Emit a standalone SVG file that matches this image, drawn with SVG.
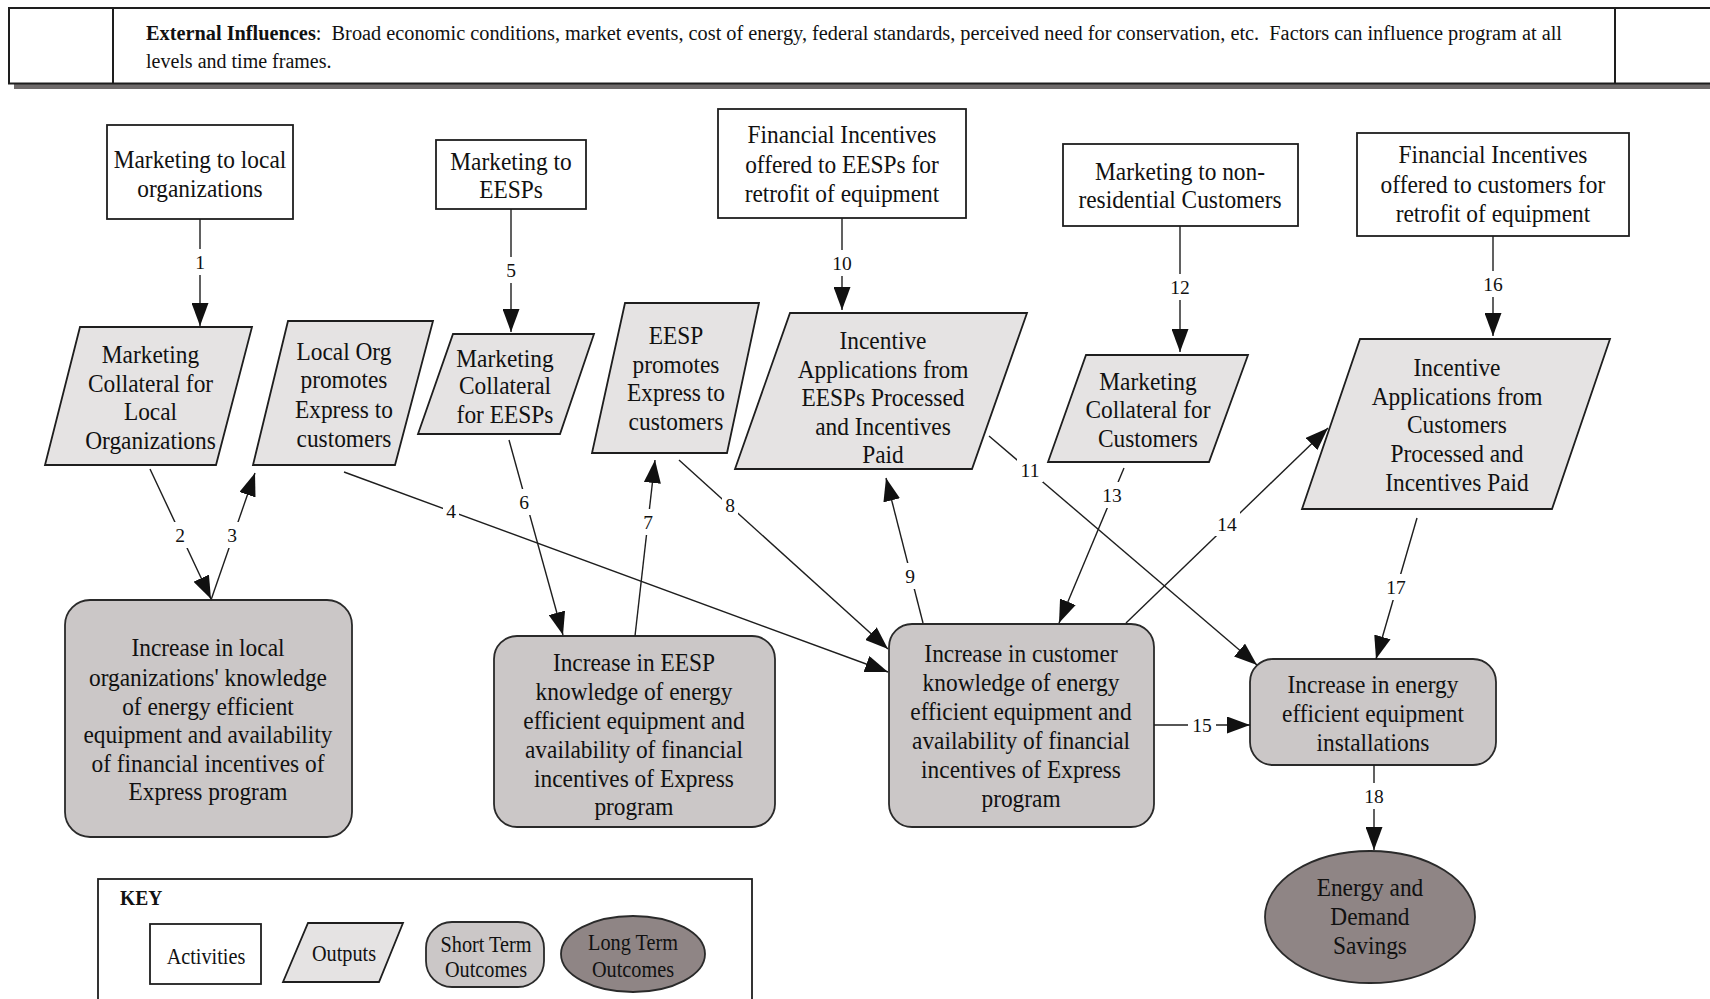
<svg xmlns="http://www.w3.org/2000/svg" width="1710" height="999" viewBox="0 0 1710 999">
<style>
.t{font-family:"Liberation Serif","Times New Roman",serif;fill:#111;text-anchor:middle}
.n{font-size:25px}
.k{font-size:22.5px}
.act{fill:#fff;stroke:#1e1e1e;stroke-width:1.8}
.out{fill:#e5e3e3;stroke:#1e1e1e;stroke-width:1.8}
.st{fill:#cbc7c7;stroke:#2a2a2a;stroke-width:1.8}
.lt{fill:#8f8585;stroke:#2a2a2a;stroke-width:1.8}
.e{stroke:#1e1e1e;stroke-width:1.4;fill:none;marker-end:url(#ah)}
.bg{fill:#fff}
.lb{font-family:"Liberation Serif","Times New Roman",serif;font-size:19.5px;fill:#111;text-anchor:middle}
.hd{font-family:"Liberation Serif","Times New Roman",serif;font-size:20px;fill:#111;white-space:pre}
</style>
<defs>
<marker id="ah" markerUnits="userSpaceOnUse" markerWidth="23" markerHeight="17" refX="23" refY="8.5" orient="auto">
<path d="M0,0 L23,8.5 L0,17 z" fill="#111"/>
</marker>
</defs>
<rect width="1710" height="999" fill="#fff"/>

<g id="external-influences">
<rect x="14" y="84" width="1700" height="5" fill="#6e6a6a"/>
<rect x="9" y="8" width="1710" height="75.5" fill="#fff" stroke="#1e1e1e" stroke-width="2"/>
<line x1="113" y1="8" x2="113" y2="83.5" stroke="#1e1e1e" stroke-width="2"/>
<line x1="1615" y1="8" x2="1615" y2="83.5" stroke="#1e1e1e" stroke-width="2"/>
<text class="hd" x="146" y="40" textLength="1416" lengthAdjust="spacingAndGlyphs" xml:space="preserve"><tspan font-weight="bold">External Influences</tspan>:  Broad economic conditions, market events, cost of energy, federal standards, perceived need for conservation, etc.  Factors can influence program at all</text>
<text class="hd" x="146" y="68">levels and time frames.</text>
</g>

<g id="act-local">
<rect class="act" x="107" y="125" width="186" height="94"/>
<text class="t n" transform="matrix(0.935 0 0 1 13 0)" x="200"><tspan x="200" y="168.5">Marketing to local</tspan><tspan x="200" y="197">organizations</tspan></text>
</g>
<g id="act-eesp">
<rect class="act" x="436" y="140" width="150" height="69"/>
<text class="t n" transform="matrix(0.935 0 0 1 33.2 0)"><tspan x="511" y="170">Marketing to</tspan><tspan x="511" y="198">EESPs</tspan></text>
</g>
<g id="act-fin-eesp">
<rect class="act" x="718" y="109" width="248" height="109"/>
<text class="t n" transform="matrix(0.935 0 0 1 54.7 0)"><tspan x="842" y="143.5">Financial Incentives</tspan><tspan x="842" y="173">offered to EESPs for</tspan><tspan x="842" y="202">retrofit of equipment</tspan></text>
</g>
<g id="act-nonres">
<rect class="act" x="1063" y="144" width="235" height="82"/>
<text class="t n" transform="matrix(0.935 0 0 1 76.7 0)"><tspan x="1180" y="180">Marketing to non-</tspan><tspan x="1180" y="208.5">residential Customers</tspan></text>
</g>
<g id="act-fin-cust">
<rect class="act" x="1357" y="133" width="272" height="103"/>
<text class="t n" transform="matrix(0.935 0 0 1 97 0)"><tspan x="1493" y="163.5">Financial Incentives</tspan><tspan x="1493" y="193">offered to customers for</tspan><tspan x="1493" y="222">retrofit of equipment</tspan></text>
</g>

<g id="out-collateral-local">
<polygon class="out" points="80,327 252,327 216,465 45,465"/>
<text class="t n" transform="matrix(0.935 0 0 1 9.8 0)"><tspan x="150.5" y="363.5">Marketing</tspan><tspan x="150.5" y="392">Collateral for</tspan><tspan x="150.5" y="420">Local</tspan><tspan x="150.5" y="449">Organizations</tspan></text>
</g>
<g id="out-localorg-promotes">
<polygon class="out" points="288,321 433,321 395,465 253,465"/>
<text class="t n" transform="matrix(0.935 0 0 1 22.3 0)"><tspan x="344" y="360">Local Org</tspan><tspan x="344" y="388.5">promotes</tspan><tspan x="344" y="418">Express to</tspan><tspan x="344" y="447">customers</tspan></text>
</g>
<g id="out-collateral-eesp">
<polygon class="out" points="453,334 594,334 560,434 418,434"/>
<text class="t n" transform="matrix(0.935 0 0 1 32.8 0)"><tspan x="505" y="367">Marketing</tspan><tspan x="505" y="394.5">Collateral</tspan><tspan x="505" y="423.5">for EESPs</tspan></text>
</g>
<g id="out-eesp-promotes">
<polygon class="out" points="625,303 759,303 727,453 592,453"/>
<text class="t n" transform="matrix(0.935 0 0 1 43.9 0)"><tspan x="676" y="344">EESP</tspan><tspan x="676" y="373">promotes</tspan><tspan x="676" y="401.5">Express to</tspan><tspan x="676" y="430">customers</tspan></text>
</g>
<g id="out-apps-eesp">
<polygon class="out" points="790,313 1027,313 972,469 735,469"/>
<text class="t n" transform="matrix(0.935 0 0 1 57.4 0)"><tspan x="883" y="349">Incentive</tspan><tspan x="883" y="378">Applications from</tspan><tspan x="883" y="406">EESPs Processed</tspan><tspan x="883" y="435">and Incentives</tspan><tspan x="883" y="463.5">Paid</tspan></text>
</g>
<g id="out-collateral-cust">
<polygon class="out" points="1086,355 1248,355 1209,462 1048,462"/>
<text class="t n" transform="matrix(0.935 0 0 1 74.6 0)"><tspan x="1148" y="390">Marketing</tspan><tspan x="1148" y="418.5">Collateral for</tspan><tspan x="1148" y="447.5">Customers</tspan></text>
</g>
<g id="out-apps-cust">
<polygon class="out" points="1360,339 1610,339 1552,509 1302,509"/>
<text class="t n" transform="matrix(0.935 0 0 1 94.7 0)"><tspan x="1457" y="376.5">Incentive</tspan><tspan x="1457" y="405">Applications from</tspan><tspan x="1457" y="433.5">Customers</tspan><tspan x="1457" y="462.5">Processed and</tspan><tspan x="1457" y="491">Incentives Paid</tspan></text>
</g>

<g id="st-local">
<rect class="st" x="65" y="600" width="287" height="237" rx="25"/>
<text class="t n" transform="matrix(0.935 0 0 1 13.5 0)"><tspan x="208" y="656.5">Increase in local</tspan><tspan x="208" y="686">organizations' knowledge</tspan><tspan x="208" y="715">of energy efficient</tspan><tspan x="208" y="743.5">equipment and availability</tspan><tspan x="208" y="772">of financial incentives of</tspan><tspan x="208" y="800">Express program</tspan></text>
</g>
<g id="st-eesp">
<rect class="st" x="494" y="636" width="281" height="191" rx="23"/>
<text class="t n" transform="matrix(0.935 0 0 1 41.2 0)"><tspan x="634" y="671.5">Increase in EESP</tspan><tspan x="634" y="700">knowledge of energy</tspan><tspan x="634" y="729">efficient equipment and</tspan><tspan x="634" y="758.5">availability of financial</tspan><tspan x="634" y="787">incentives of Express</tspan><tspan x="634" y="815.5">program</tspan></text>
</g>
<g id="st-customer">
<rect class="st" x="889" y="624" width="265" height="203" rx="23"/>
<text class="t n" transform="matrix(0.935 0 0 1 66.4 0)"><tspan x="1021" y="662.5">Increase in customer</tspan><tspan x="1021" y="691.5">knowledge of energy</tspan><tspan x="1021" y="720">efficient equipment and</tspan><tspan x="1021" y="749">availability of financial</tspan><tspan x="1021" y="778.5">incentives of Express</tspan><tspan x="1021" y="807.5">program</tspan></text>
</g>
<g id="st-installations">
<rect class="st" x="1250" y="659" width="246" height="106" rx="23"/>
<text class="t n" transform="matrix(0.935 0 0 1 89.2 0)"><tspan x="1373" y="693.5">Increase in energy</tspan><tspan x="1373" y="722.5">efficient equipment</tspan><tspan x="1373" y="751">installations</tspan></text>
</g>
<g id="lt-savings">
<ellipse class="lt" cx="1370" cy="917" rx="105" ry="66"/>
<text class="t n" transform="matrix(0.935 0 0 1 89 0)"><tspan x="1370" y="896.5">Energy and</tspan><tspan x="1370" y="925.5">Demand</tspan><tspan x="1370" y="954.5">Savings</tspan></text>
</g>

<g id="key">
<rect x="98" y="879" width="654" height="140" fill="#fff" stroke="#1e1e1e" stroke-width="1.8"/>
<text class="t" transform="matrix(0.93 0 0 1 8.4 0)" x="120" y="905" style="text-anchor:start;font-size:21px;font-weight:bold">KEY</text>
<rect class="act" x="150" y="924" width="111" height="60"/>
<text class="t k" transform="matrix(0.9 0 0 1 20.6 0)" x="206" y="964">Activities</text>
<polygon class="out" points="308,923 403,923 379,982 283,982"/>
<text class="t k" transform="matrix(0.9 0 0 1 34.4 0)" x="344" y="961">Outputs</text>
<rect class="st" x="426" y="922" width="118" height="65" rx="26"/>
<text class="t k" transform="matrix(0.9 0 0 1 48.6 0)"><tspan x="486" y="952">Short Term</tspan><tspan x="486" y="977">Outcomes</tspan></text>
<ellipse class="lt" cx="633" cy="954" rx="72" ry="38"/>
<text class="t k" transform="matrix(0.9 0 0 1 63.3 0)"><tspan x="633" y="950">Long Term</tspan><tspan x="633" y="977">Outcomes</tspan></text>
</g>

<g id="connectors">
<line class="e" x1="200" y1="219" x2="200" y2="326"/>
<line class="e" x1="511" y1="209" x2="511" y2="332"/>
<line class="e" x1="842" y1="218" x2="842" y2="310"/>
<line class="e" x1="1180" y1="226" x2="1180" y2="352"/>
<line class="e" x1="1493" y1="236" x2="1493" y2="336"/>
<line class="e" x1="150" y1="469" x2="211" y2="599"/>
<line class="e" x1="211" y1="600" x2="255" y2="473"/>
<line class="e" x1="344" y1="472" x2="888" y2="672"/>
<line class="e" x1="509" y1="440" x2="563" y2="635"/>
<line class="e" x1="635" y1="636" x2="655" y2="460"/>
<line class="e" x1="679" y1="460" x2="888" y2="649"/>
<line class="e" x1="923" y1="623" x2="886" y2="478"/>
<line class="e" x1="989" y1="436" x2="1257" y2="665"/>
<line class="e" x1="1124" y1="468" x2="1059" y2="623"/>
<line class="e" x1="1126" y1="623" x2="1328" y2="428"/>
<line class="e" x1="1154" y1="725" x2="1250" y2="725"/>
<line class="e" x1="1417" y1="518" x2="1376" y2="659"/>
<line class="e" x1="1374" y1="765" x2="1374" y2="850"/>
<rect class="bg" x="192" y="249" width="16" height="26"/>
<rect class="bg" x="503" y="257" width="16" height="26"/>
<rect class="bg" x="829" y="250" width="26" height="26"/>
<rect class="bg" x="1167" y="274" width="26" height="26"/>
<rect class="bg" x="1480" y="271" width="26" height="26"/>
<rect class="bg" x="172" y="522" width="16" height="26"/>
<rect class="bg" x="224" y="522" width="16" height="26"/>
<rect class="bg" x="443" y="500" width="16" height="22"/>
<rect class="bg" x="516" y="489" width="16" height="26"/>
<rect class="bg" x="640" y="509" width="16" height="26"/>
<rect class="bg" x="722" y="493" width="16" height="24"/>
<rect class="bg" x="902" y="563" width="16" height="26"/>
<rect class="bg" x="1017" y="458" width="26" height="24"/>
<rect class="bg" x="1099" y="482" width="26" height="26"/>
<rect class="bg" x="1214" y="512" width="26" height="24"/>
<rect class="bg" x="1188" y="714" width="28" height="22"/>
<rect class="bg" x="1383" y="574" width="26" height="26"/>
<rect class="bg" x="1361" y="783" width="26" height="26"/>
<text class="lb" x="200" y="268.5">1</text>
<text class="lb" x="511" y="276.5">5</text>
<text class="lb" x="842" y="269.5">10</text>
<text class="lb" x="1180" y="293.5">12</text>
<text class="lb" x="1493" y="290.5">16</text>
<text class="lb" x="180" y="541.5">2</text>
<text class="lb" x="232" y="541.5">3</text>
<text class="lb" x="451" y="517.5">4</text>
<text class="lb" x="524" y="508.5">6</text>
<text class="lb" x="648" y="528.5">7</text>
<text class="lb" x="730" y="511.5">8</text>
<text class="lb" x="910" y="582.5">9</text>
<text class="lb" x="1030" y="476.5">11</text>
<text class="lb" x="1112" y="501.5">13</text>
<text class="lb" x="1227" y="530.5">14</text>
<text class="lb" x="1202" y="731.5">15</text>
<text class="lb" x="1396" y="593.5">17</text>
<text class="lb" x="1374" y="802.5">18</text>
</g>
</svg>
